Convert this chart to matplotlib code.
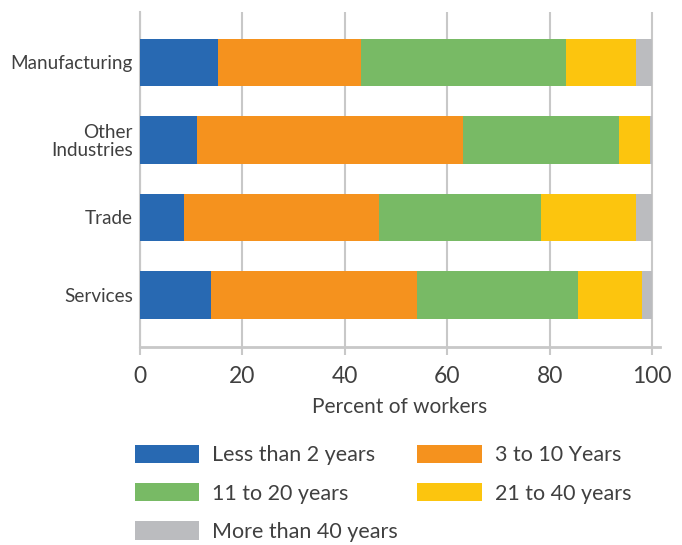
import matplotlib.pyplot as plt
import numpy as np
from matplotlib.patches import Patch

# Data (percent of workers by tenure)
industries = ['Manufacturing', 'Other\nIndustries', 'Trade', 'Services']
less_2 = [15.2, 11.1, 8.5, 13.8]
y3_10 = [28.0, 52.0, 38.2, 40.2]
y11_20 = [39.9, 30.3, 31.6, 31.4]
y21_40 = [13.8, 6.1, 18.6, 12.6]
more_40 = [3.1, 0.5, 3.1, 2.0]

series_labels = ['Less than 2 years', '3 to 10 Years', '11 to 20 years',
                 '21 to 40 years', 'More than 40 years']
colors = ['#2869B2', '#F5921E', '#78BA65', '#FCC50E', '#BBBCBF']

plt.rcParams['font.family'] = ['Lato', 'DejaVu Sans']
text_color = '#404040'
grid_color = '#C8C8C8'

fig = plt.figure(figsize=(6.82, 5.45), dpi=100)
ax = fig.add_axes([140 / 682, 1 - 347 / 545, 520 / 682, 335 / 545])

y = np.arange(len(industries))
left = np.zeros(len(industries))
series = [less_2, y3_10, y11_20, y21_40, more_40]
for vals, color, label in zip(series, colors, series_labels):
    ax.barh(y, vals, left=left, height=0.61, color=color, label=label, zorder=3)
    left += np.array(vals)

ax.set_ylim(3.67, -0.65)
ax.set_xlim(0, 101.5)
ax.set_yticks(y)
ax.set_yticklabels(industries, fontsize=13.6, color=text_color, ha='right',
                   multialignment='right', linespacing=1.05)
ax.set_xticks([0, 20, 40, 60, 80, 100])
ax.tick_params(axis='y', length=0, pad=5)
ax.tick_params(axis='x', length=6, width=1.5, color=grid_color, labelsize=16.5,
               labelcolor=text_color, pad=8)

ax.xaxis.grid(True, color=grid_color, linewidth=1.5, zorder=0)
ax.set_axisbelow(True)
for s in ['top', 'right']:
    ax.spines[s].set_visible(False)
ax.spines['left'].set_color(grid_color)
ax.spines['left'].set_linewidth(1.5)
ax.spines['bottom'].set_color(grid_color)
ax.spines['bottom'].set_linewidth(2)

ax.set_xlabel('Percent of workers', fontsize=15, color=text_color, labelpad=7)

# legend filled column-wise: col 1 = less/11-20/more, col 2 = 3-10/21-40
order = [0, 2, 4, 1, 3]
handles = [Patch(facecolor=colors[i]) for i in order]
labels = [series_labels[i] for i in order]
fig.legend(handles, labels, loc='upper left', bbox_to_anchor=(126 / 682, 1 - 436 / 545),
           ncol=2, frameon=False, fontsize=15.5, labelcolor=text_color,
           handlelength=3.0, handleheight=0.93, handletextpad=0.6,
           columnspacing=0.9, labelspacing=0.83, borderaxespad=0)

fig.savefig('out.png', dpi=100)
